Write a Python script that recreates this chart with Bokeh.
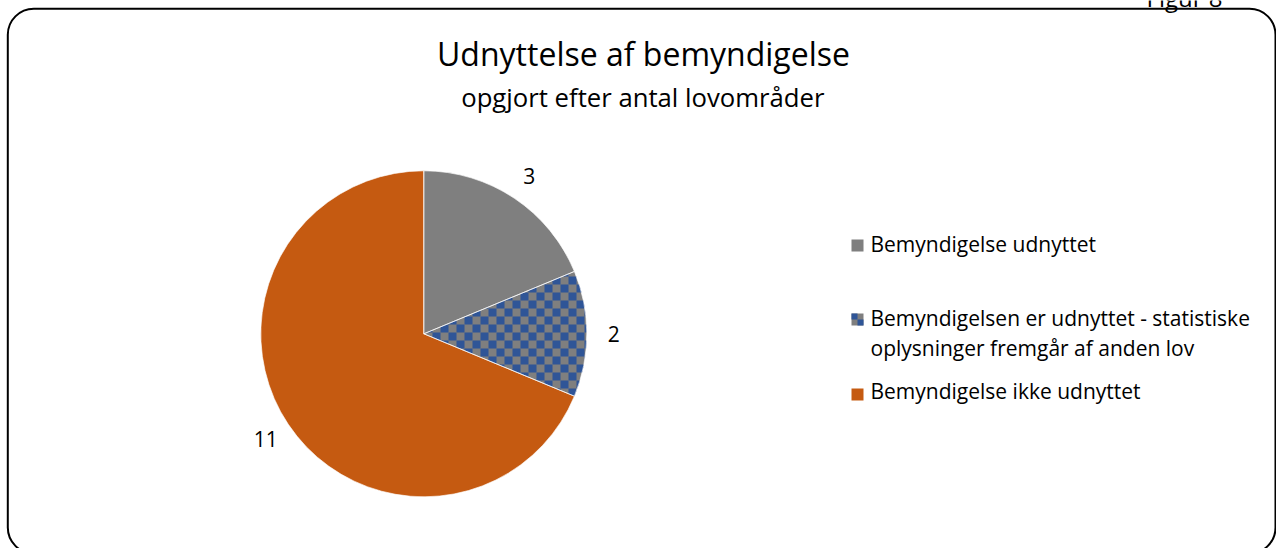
import math
from bokeh.plotting import figure
from bokeh.models import ColumnDataSource, BoxAnnotation, Range1d
from bokeh.core.properties import value
from bokeh.embed import file_html
from bokeh.resources import INLINE

# ---- data ----
title_text = "Udnyttelse af bemyndigelse"
subtitle_text = "opgjort efter antal lovområder"
corner_text = "Figur 8"
categories = [
    "Bemyndigelse udnyttet",
    "Bemyndigelsen er udnyttet - statistiske oplysninger fremgår af anden lov",
    "Bemyndigelse ikke udnyttet",
]
legend_lines = [
    ["Bemyndigelse udnyttet"],
    ["Bemyndigelsen er udnyttet - statistiske", "oplysninger fremgår af anden lov"],
    ["Bemyndigelse ikke udnyttet"],
]
counts = [3, 2, 11]
fill_colors = ["#7F7F7F", "#7F7F7F", "#C55A11"]
checker = [False, True, False]
checker_color = "#2F5597"

W, H = 1276, 548
FONT = "Open Sans"

p = figure(width=W, height=H, output_backend="svg", toolbar_location=None,
           x_range=Range1d(0, W), y_range=Range1d(0, H), min_border=0)
p.axis.visible = False
p.grid.visible = False
p.outline_line_color = None
p.background_fill_color = "white"
p.border_fill_color = "white"

# ---- pie ----
cx, cy, r = 423.3, 214.7, 163
total = sum(counts)
starts, ends, mids = [], [], []
cum = 0
for c in counts:
    a0 = math.pi / 2 - 2 * math.pi * cum / total
    cum += c
    a1 = math.pi / 2 - 2 * math.pi * cum / total
    starts.append(a0)
    ends.append(a1)
    mids.append((a0 + a1) / 2)

src = ColumnDataSource(dict(cat=categories, n=counts, start=starts, end=ends,
                            color=fill_colors))
p.wedge(x=cx, y=cy, radius=r, start_angle="start", end_angle="end",
        direction="clock", fill_color="color", line_color=None, source=src)


# checker pattern for the hatched slice: blue cells clipped to the slice
def clip(poly, clip_poly):
    out = poly
    n = len(clip_poly)
    for k in range(n):
        ax, ay = clip_poly[k]
        bx, by = clip_poly[(k + 1) % n]
        inp = out
        out = []
        if not inp:
            break

        def side(pt):
            return (bx - ax) * (pt[1] - ay) - (by - ay) * (pt[0] - ax)

        def inter(p1, p2):
            s1, s2 = side(p1), side(p2)
            t = s1 / (s1 - s2)
            return (p1[0] + t * (p2[0] - p1[0]), p1[1] + t * (p2[1] - p1[1]))

        prev = inp[-1]
        for cur in inp:
            if side(cur) >= 0:
                if side(prev) < 0:
                    out.append(inter(prev, cur))
                out.append(cur)
            elif side(prev) >= 0:
                out.append(inter(prev, cur))
            prev = cur
    return out


cell = 8.0
px, py = [], []
for i, f in enumerate(checker):
    if not f:
        continue
    lo, hi = ends[i], starts[i]
    m = 120
    sector = [(cx, cy)] + [(cx + r * math.cos(lo + (hi - lo) * k / m),
                            cy + r * math.sin(lo + (hi - lo) * k / m)) for k in range(m + 1)]
    xs = [q[0] for q in sector]
    ys = [q[1] for q in sector]
    i0, i1 = int(math.floor(min(xs) / cell)), int(math.ceil(max(xs) / cell))
    j0, j1 = int(math.floor(min(ys) / cell)), int(math.ceil(max(ys) / cell))
    for gi in range(i0, i1):
        for gj in range(j0, j1):
            if (gi + gj) % 2:
                continue
            sqp = [(gi * cell, gj * cell), ((gi + 1) * cell, gj * cell),
                   ((gi + 1) * cell, (gj + 1) * cell), (gi * cell, (gj + 1) * cell)]
            cp = clip(sqp, sector)
            if len(cp) >= 3:
                px.append([q[0] for q in cp])
                py.append([q[1] for q in cp])
p.patches(xs=px, ys=py, fill_color=checker_color, line_color=None)

# slice separators
p.wedge(x=cx, y=cy, radius=r, start_angle="start", end_angle="end",
        direction="clock", fill_alpha=0, line_color="white", line_width=0.8,
        line_alpha=0.8, source=src)

# data labels
lr = 190
lab_src = ColumnDataSource(dict(
    x=[cx + lr * math.cos(a) for a in mids],
    y=[cy + lr * math.sin(a) for a in mids],
    t=[str(c) for c in counts]))
p.text(x="x", y="y", text="t", source=lab_src, text_align="center",
       text_baseline="middle", text_font=value(FONT), text_font_size="21px",
       text_color="black")

# ---- titles ----
p.text(x=[643], y=[495.5], text=[title_text], text_align="center",
       text_baseline="alphabetic", text_font=value(FONT),
       text_font_size="32px", text_color="black")
p.text(x=[642.3], y=[451], text=[subtitle_text], text_align="center",
       text_baseline="alphabetic", text_font=value(FONT),
       text_font_size="25.7px", text_color="black")
p.text(x=[1146], y=[545], y_offset=-6, text=[corner_text], text_align="left",
       text_baseline="alphabetic", text_font=value(FONT),
       text_font_size="24px", text_color="black")

# ---- legend ----
row_base = [304.3, 230.5, 157.5]
line_gap = 30
sq = 12
lx_text = 870
lx_sq = 857
sq_cy = [303, 229, 154]
sq_x, sq_y, sq_c, tx, ty, tt = [], [], [], [], [], []
for i, lines in enumerate(legend_lines):
    sq_x.append(lx_sq)
    sq_y.append(sq_cy[i])
    sq_c.append(fill_colors[i])
    for j, line in enumerate(lines):
        tx.append(lx_text)
        ty.append(row_base[i] - j * line_gap)
        tt.append(line)
p.rect(x=sq_x, y=sq_y, width=sq, height=sq, fill_color=sq_c, line_color=None)
# checker cells of the legend key
ck_x, ck_y = [], []
for i, f in enumerate(checker):
    if f:
        h = sq / 4
        ck_x += [sq_x[i] - h, sq_x[i] + h]
        ck_y += [sq_y[i] + h, sq_y[i] - h]
p.rect(x=ck_x, y=ck_y, width=sq / 2, height=sq / 2, fill_color=checker_color,
       line_color=None)
p.text(x=tx, y=ty, text=tt, text_align="left", text_baseline="alphabetic",
       text_font=value(FONT), text_font_size="21px", text_color="black")

# ---- rounded border ----
p.add_layout(BoxAnnotation(left=7.3, right=1275, bottom=-5, top=539.7,
                           fill_alpha=0, line_color="black", line_alpha=1,
                           line_width=2, border_radius=26))

open("out.html", "w").write(file_html(p, INLINE))
